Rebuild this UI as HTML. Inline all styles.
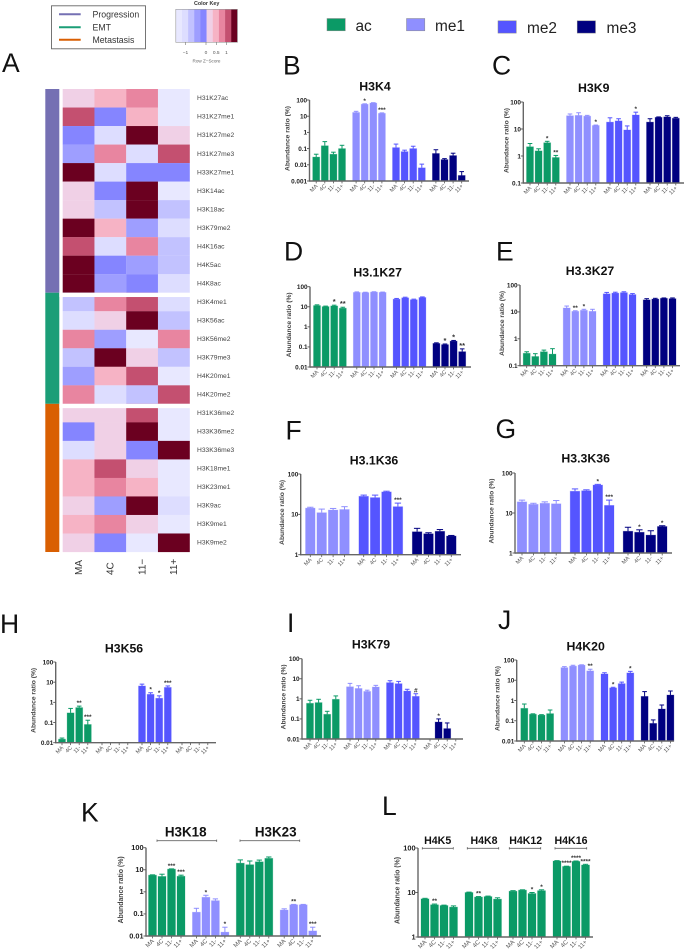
<!DOCTYPE html>
<html lang="en">
<head>
<meta charset="utf-8">
<title>Histone modification abundance</title>
<style>
html,body{margin:0;padding:0;background:#fff;}
body{width:685px;height:952px;overflow:hidden;font-family:"Liberation Sans",sans-serif;}
svg{display:block;}
text{font-family:"Liberation Sans",sans-serif;}
</style>
</head>
<body>
<svg id="figure" width="685" height="952" viewBox="0 0 685 952" xmlns="http://www.w3.org/2000/svg">
  <rect x="0" y="0" width="685" height="952" fill="#fff"/>
  <g>
    <rect x="51.5" y="5.8" width="94" height="43" fill="#fff" stroke="#666" stroke-width="0.9"/>
    <line x1="59" x2="80.7" y1="14.3" y2="14.3" stroke="#7570b3" stroke-width="2"/>
    <line x1="59" x2="80.7" y1="27.3" y2="27.3" stroke="#1b9e77" stroke-width="2"/>
    <line x1="59" x2="80.7" y1="39.7" y2="39.7" stroke="#d95f02" stroke-width="2"/>
    <text x="92.5" y="17.6" font-size="8.75" fill="#333">Progression</text>
    <text x="92.5" y="30.6" font-size="8.75" fill="#333">EMT</text>
    <text x="92.5" y="43" font-size="8.75" fill="#333">Metastasis</text>
  </g>
  <g>
    <rect x="327" y="18.5" width="18.3" height="12.3" fill="#0b9a66" stroke="#888" stroke-width="0.5"/>
    <text x="355.5" y="31" font-size="15.4" fill="#222">ac</text>
    <rect x="406.5" y="18.5" width="18.3" height="12.3" fill="#8f8fff" stroke="#888" stroke-width="0.5"/>
    <text x="435" y="31" font-size="15.4" fill="#222">me1</text>
    <rect x="498" y="20.8" width="18.3" height="12.3" fill="#5555ff" stroke="#888" stroke-width="0.5"/>
    <text x="527" y="33" font-size="15.4" fill="#222">me2</text>
    <rect x="577.2" y="20.8" width="18.3" height="12.3" fill="#000080" stroke="#888" stroke-width="0.5"/>
    <text x="606.5" y="33" font-size="15.4" fill="#222">me3</text>
  </g>
  <g id="panel-letters" font-size="26.5" fill="#111">
    <text x="2" y="72">A</text>
    <text x="283" y="74.3">B</text>
    <text x="492" y="74.3">C</text>
    <text x="284" y="260.7">D</text>
    <text x="496" y="260.7">E</text>
    <text x="285.5" y="439.3">F</text>
    <text x="495.5" y="438">G</text>
    <text x="0" y="633">H</text>
    <text x="287" y="632">I</text>
    <text x="498" y="629">J</text>
    <text x="81" y="821.7">K</text>
    <text x="382" y="815">L</text>
  </g>
</svg>
<script>
// ---------- shared categories ----------
const categories = ['MA', '4C', '11-', '11+'];

// ---------- heatmap data (row z-scores) ----------
const heatmapRows = ['H31K27ac','H31K27me1','H31K27me2','H31K27me3','H33K27me1','H3K14ac','H3K18ac','H3K79me2','H4K16ac','H4K5ac','H4K8ac','H3K4me1','H3K56ac','H3K56me2','H3K79me3','H4K20me1','H4K20me2','H31K36me2','H33K36me2','H33K36me3','H3K18me1','H3K23me1','H3K9ac','H3K9me1','H3K9me2'];
const heatmapColumns = ['MA', '4C', '11\u2212', '11+'];
const heatmapZ = [
  [0.15,0.45,0.75,-1.35],
  [1.05,-0.15,0.45,-1.35],
  [-0.15,-1.05,1.35,0.15],
  [-0.45,0.75,-1.05,1.05],
  [1.35,-1.05,-0.15,-0.15],
  [0.15,-0.15,1.35,-1.35],
  [0.15,-0.75,1.35,-0.75],
  [1.35,0.45,-0.45,-1.05],
  [1.05,-1.05,0.75,-0.75],
  [1.35,-0.15,-0.45,-0.75],
  [1.35,-0.45,-0.15,-1.05],
  [-0.75,0.75,1.05,-1.05],
  [-1.05,0.15,1.35,-0.75],
  [0.75,-0.45,-1.35,0.75],
  [-0.75,1.35,0.15,-0.75],
  [-0.45,0.45,1.05,-1.35],
  [0.75,-1.05,-0.75,1.05],
  [0.15,0.15,1.05,-1.35],
  [-0.15,0.15,1.35,-1.35],
  [-1.05,0.15,-0.15,1.35],
  [0.45,1.05,0.15,-1.35],
  [0.45,0.75,0.45,-1.35],
  [0.15,-0.45,1.35,-1.05],
  [0.45,0.75,0.15,-1.35],
  [0.15,-0.15,-1.35,1.35]
];
const heatmapGroups = ['Progression','EMT','Metastasis'];
const heatmapGroupCounts = [11, 6, 8];
const colorKeyTicks = [-1, 0, 0.5, 1];

// ---------- bar chart data ----------
const yTicks001 = [0.001, 0.01, 0.1, 1, 10, 100];
const yTicks01 = [0.01, 0.1, 1, 10, 100];
const yTicks1 = [0.1, 1, 10, 100];
const yTicksUnit = [1, 10, 100];

const h3k4Values = [[0.03,0.15,0.045,0.1],[17,55,65,15],[0.115,0.065,0.1,0.0065],[0.05,0.021,0.037,0.0022]];
const h3k4Errors = [[0.045,0.27,0.06,0.16],[20,58,68,16],[0.19,0.08,0.14,0.011],[0.085,0.024,0.052,0.0038]];
const h3k4Stars = [['','','',''],['','*','','***'],['','','',''],['','','','']];

const h3k9Values = [[2.2,1.55,3.1,0.88],[31,32,30,13.5],[18,20,9.2,33],[18,27,28,25]];
const h3k9Errors = [[2.9,1.85,3.5,1.05],[36,40,32,14],[26,24,13,42],[24,28,31,27]];
const h3k9Stars = [['','','*','**'],['','','','*'],['','','','*'],['','','','']];

const h31k27Values = [[11.5,10.2,11,8.5],[52,51,54,52],[24,28,22.5,29],[0.15,0.13,0.195,0.058]];
const h31k27Errors = [[12.5,10.8,12,9.5],[55,53,56,54],[26,30,24,31],[0.16,0.14,0.21,0.08]];
const h31k27Stars = [['','','*','**'],['','','',''],['','','',''],['','*','*','**']];

const h33k27Values = [[0.29,0.22,0.33,0.27],[14,10.5,11.5,10.5],[47,50,52,44],[28,30,32,31]];
const h33k27Errors = [[0.33,0.28,0.38,0.43],[16.5,11,12.5,12.5],[53,54,56,48],[31,32,33,33]];
const h33k27Stars = [['','','',''],['','**','*',''],['','','',''],['','','','']];

const h31k36Values = [[14.3,11,12.8,13.2],[28,26,36,15.5],[3.7,3.3,3.8,2.9]];
const h31k36Errors = [[15,13.5,14,15.5],[30,30,37.5,19],[4.5,3.5,4.2,3]];
const h31k36Stars = [['','','',''],['','','','***'],['','','','']];

const h33k36Values = [[19,16.5,17.5,17],[35,36,50,15.5],[3.5,3.3,2.8,4.6]];
const h33k36Errors = [[21,17.5,19,20.5],[40,38,52,21],[4.4,3.8,3.6,4.8]];
const h33k36Stars = [['','','',''],['','','*','***'],['','*','','*']];

const h3k56Values = [[0.015,0.3,0.55,0.08],[null,null,null,null],[6.5,2.5,1.6,5.5],[null,null,null,null]];
const h3k56Errors = [[0.017,0.5,0.65,0.13],[null,null,null,null],[8,3,2.1,6.5],[null,null,null,null]];
const h3k56Stars = [['','','**','***'],['','','',''],['','*','*','***'],['','','','']];

const h3k79Values = [[0.6,0.65,0.17,0.95],[4,3.3,2.35,3.9],[6.4,5.7,2.45,1.33],[null,0.07,0.033,null]];
const h3k79Errors = [[0.85,0.95,0.24,1.4],[5.9,4.5,2.7,4.7],[8,7.4,3,1.8],[null,0.1,0.063,null]];
const h3k79Stars = [['','','',''],['','','',''],['','','','#'],['','*','','']];

const h4k20Values = [[0.41,0.21,0.19,0.225],[42,50,56,29],[20.5,4.2,6.8,23],[1.6,0.074,0.38,1.86]];
const h4k20Errors = [[0.67,0.22,0.2,0.34],[47,55,58,35],[23.5,4.5,8.1,27.5],[2.75,0.11,0.6,2.95]];
const h4k20Stars = [['','','',''],['','','','**'],['','*','','*'],['','','','']];

const h3k18k23Values = [[5.7,5,10.7,5.1],[0.12,0.57,0.4,0.015],[20,17,23,33],[0.15,0.26,0.26,0.017]];
const h3k18k23Errors = [[5.9,6.3,11,5.7],[0.18,0.7,0.48,0.025],[28,25,27.5,38],[0.17,0.27,0.27,0.025]];
const h3k18k23Stars = [['','','***','***'],['','*','','*'],['','','',''],['','**','','***']];

const h4Values = [[7.2,5.3,5.1,4.7],[10,7.9,8.1,7.1],[10.7,11.3,9.5,11],[51,38.5,50,41.5]];
const h4Errors = [[7.4,5.5,5.2,5],[10.2,8.1,8.3,7.6],[11,11.5,10,11.5],[52,39,51,43]];
const h4Stars = [['','**','',''],['','**','',''],['','','*','*'],['','****','****','****']];

// ---------- layout (not data) ----------
const fills = {ac:'#0b9a66', me1:'#8f8fff', me2:'#5555ff', me3:'#000080'};
const keyColors = ['#e8e8ff','#ddddff','#c2c2ff','#9e9eff','#8585ff','#f0d0e6','#f6b3c5','#e885a0','#c45070','#6b0020'];
const figure = document.getElementById('figure');
const NS = 'http://www.w3.org/2000/svg';

function make(tag, attrs, parent, content) {
  const node = document.createElementNS(NS, tag);
  for (const k in attrs) node.setAttribute(k, attrs[k]);
  if (content !== undefined) node.textContent = content;
  parent.appendChild(node);
  return node;
}

function slug(s) {
  return String(s).toLowerCase().replace(/\./g, '').replace(/\+/g, 'plus').replace(/[-\u2212]/g, 'minus').replace(/[^a-z0-9]+/g, '-');
}

// ---------- colour key ----------
(function drawColorKey() {
  const g = make('g', {}, figure);
  
  
  const x0 = 175.8, zero = 206, unit = 20.5, binW = 6.16;
  keyColors.forEach(function (c, i) {
    const r = make('rect', {x: x0 + i * binW, y: 9.3, width: binW + 0.2, height: 33, fill: c}, g);
    
    
  });
  const frame = make('rect', {x: x0, y: 9.3, width: 61.6, height: 33, fill: 'none', stroke: '#999', 'stroke-width': 0.6}, g);
  
  
  colorKeyTicks.forEach(function (t) {
    const x = zero + t * unit;
    const tick = make('line', {x1: x, x2: x, y1: 42.3, y2: 45, stroke: '#555', 'stroke-width': 0.5}, g);
    
    
    const lab = make('text', {x: x, y: 54, 'font-size': 4.8, fill: '#555', 'text-anchor': 'middle'}, g, t < 0 ? '\u22121' : String(t));
    
    
  });
  const title = make('text', {x: 206.7, y: 5, 'font-size': 5.4, 'font-weight': 'bold', fill: '#333', 'text-anchor': 'middle'}, g, 'Color Key');
  
  
  const sub = make('text', {x: 206.5, y: 62.6, 'font-size': 4.6, fill: '#666', 'text-anchor': 'middle'}, g, 'Row Z\u2212Score');
  
  
})();

// ---------- heatmap ----------
function heatColor(z) {
  const bin = Math.max(0, Math.min(keyColors.length - 1, Math.floor((z + 1.5) / 0.3)));
  return keyColors[bin];
}

(function drawHeatmap() {
  const g = make('g', {}, figure);
  
  
  const top = 89, rowH = 18.52, colX = 62.7, colW = 31.75;
  const groupColors = ['#7570b3', '#1b9e77', '#d95f02'];
  let cursor = 0;
  heatmapGroupCounts.forEach(function (count, i) {
    const side = make('rect', {x: 45.3, y: top + cursor * rowH, width: 14, height: count * rowH, fill: groupColors[i]}, g);
    
    
    cursor += count;
  });
  heatmapZ.forEach(function (row, r) {
    row.forEach(function (z, c) {
      const cell = make('rect', {x: colX + c * colW, y: top + r * rowH, width: colW + 0.1, height: rowH + 0.1, fill: heatColor(z)}, g);
      
      
    });
    const lab = make('text', {x: 197, y: top + r * rowH + 11.2, 'font-size': 6.7, fill: '#444'}, g, heatmapRows[r]);
    
    
  });
  let split = 0;
  heatmapGroupCounts.slice(0, 2).forEach(function (count) {
    split += count;
    const gap = make('rect', {x: 59.3, y: top + split * rowH, width: 132, height: 4.3, fill: '#fff'}, g);
    
    
  });
  heatmapColumns.forEach(function (label, c) {
    const cx = colX + (c + 0.5) * colW + 3.4;
    const lab = make('text', {x: cx, y: 575, 'font-size': 10, fill: '#333', transform: 'rotate(-90 ' + cx + ' 575)'}, g, label);
    
    
  });
})();

// ---------- bar panels ----------
function drawPanel(p) {
  const g = make('g', {}, figure);
  
  
  const lo = Math.log10(p.ticks[0]);
  const hi = Math.log10(p.ticks[p.ticks.length - 1]);
  const yScale = function (v) { return p.bottom - (Math.log10(v) - lo) / (hi - lo) * (p.bottom - p.top); };
  const xScale = function (grp, i) { return p.first + grp * p.pitch + i * p.step; };

  p.values.forEach(function (series, grp) {
    const fill = fills[p.series[grp]];
    series.forEach(function (v, i) {
      const cx = xScale(grp, i);
      if (v !== null) {
        const errTop = yScale(p.errors[grp][i]);
        const y = yScale(v);
        const stem = make('line', {x1: cx, x2: cx, y1: errTop, y2: y, stroke: fill, 'stroke-width': 1}, g);
        
        
        const cap = make('line', {x1: cx - p.barW * 0.33, x2: cx + p.barW * 0.33, y1: errTop, y2: errTop, stroke: fill, 'stroke-width': 1}, g);
        
        
        const bar = make('rect', {x: cx - p.barW / 2, y: y, width: p.barW, height: p.bottom - y, fill: fill, stroke: fill, 'stroke-opacity': 0.3, 'stroke-width': 0.8}, g);
        
        
      }
      const mark = p.stars[grp][i];
      if (mark && v !== null) {
        const star = make('text', {x: cx, y: yScale(p.errors[grp][i]) - 1, 'font-size': p.starSize || 6.5, 'font-weight': 'bold', fill: '#333', 'text-anchor': 'middle'}, g, mark);
        
        
      }
      const tick = make('line', {x1: cx, x2: cx, y1: p.bottom, y2: p.bottom + 2.4, stroke: '#555', 'stroke-width': 0.8}, g);
      
      
      const lx = cx + 1.8, ly = p.bottom + 5.4;
      const lab = make('text', {x: lx, y: ly, 'font-size': p.xSize || 5.6, fill: '#555', 'text-anchor': 'end', transform: 'rotate(-45 ' + lx + ' ' + ly + ')'}, g, categories[i]);
      
      
    });
  });

  const yAxis = make('line', {x1: p.left, x2: p.left, y1: p.top, y2: p.bottom + 0.7, stroke: '#666', 'stroke-width': 1.4}, g);
  
  
  const xAxis = make('line', {x1: p.left, x2: p.right, y1: p.bottom, y2: p.bottom, stroke: '#666', 'stroke-width': 1.4}, g);
  
  

  p.ticks.forEach(function (t) {
    const y = yScale(t);
    const tick = make('line', {x1: p.left - 2.5, x2: p.left, y1: y, y2: y, stroke: '#555', 'stroke-width': 0.9}, g);
    
    
    const lab = make('text', {x: p.left - 2.4, y: y + 2.3, 'font-size': p.tickSize || 6.4, 'font-weight': 'bold', fill: '#222', 'text-anchor': 'end'}, g, String(t));
    
    
  });

  const ly = (p.top + p.bottom) / 2 - 2;
  const lx = p.left - p.labelOffset + 2;
  const yTitle = make('text', {x: lx, y: ly, 'font-size': p.labelSize || 6.7, 'font-weight': 'bold', fill: '#444', 'text-anchor': 'middle', transform: 'rotate(-90 ' + lx + ' ' + ly + ')'}, g, 'Abundance ratio (%)');
  
  

  p.titles.forEach(function (t) {
    const title = make('text', {x: t.x, y: t.y + 4.3, 'font-size': p.titleSize || 12.3, 'font-weight': 'bold', fill: '#111', 'text-anchor': 'middle'}, g, t.text);
    
    
    if (t.x1 !== undefined) {
      const bracket = make('line', {x1: t.x1, x2: t.x2, y1: t.by, y2: t.by, stroke: '#666', 'stroke-width': 0.9}, g);
      
      
      [t.x1, t.x2].forEach(function (bx) {
        const end = make('line', {x1: bx, x2: bx, y1: t.by - 1.2, y2: t.by + 1.2, stroke: '#666', 'stroke-width': 0.8}, g);
        
        
      });
    }
  });
}

const allSeries = ['ac', 'me1', 'me2', 'me3'];
const methylSeries = ['me1', 'me2', 'me3'];

drawPanel({name:'H3K4', values:h3k4Values, errors:h3k4Errors, stars:h3k4Stars, series:allSeries, ticks:yTicks001, left:309.5, top:100, bottom:181, right:469, first:316.2, pitch:39.9, step:8.6, barW:7, labelOffset:22, titles:[{text:'H3K4', x:375, y:86}]});
drawPanel({name:'H3K9', values:h3k9Values, errors:h3k9Errors, stars:h3k9Stars, series:allSeries, ticks:yTicks1, left:523.3, top:102, bottom:183, right:684, first:530, pitch:40, step:8.6, barW:7, labelOffset:16.6, titles:[{text:'H3K9', x:593.7, y:87.7}]});
drawPanel({name:'H3.1K27', values:h31k27Values, errors:h31k27Errors, stars:h31k27Stars, series:allSeries, ticks:yTicks01, left:310, top:286.7, bottom:367, right:471, first:317, pitch:39.8, step:8.6, barW:7, labelOffset:21, starSize:7.5, titles:[{text:'H3.1K27', x:377.7, y:272}]});
drawPanel({name:'H3.3K27', values:h33k27Values, errors:h33k27Errors, stars:h33k27Stars, series:allSeries, ticks:yTicks1, left:520, top:285, bottom:365.7, right:680, first:526.7, pitch:40, step:8.6, barW:7, labelOffset:18, titles:[{text:'H3.3K27', x:590, y:270.7}]});
drawPanel({name:'H3.1K36', values:h31k36Values, errors:h31k36Errors, stars:h31k36Stars, series:methylSeries, ticks:yTicksUnit, left:300.7, top:474, bottom:554.7, right:461, first:310.3, pitch:53.4, step:11.4, barW:9.6, labelOffset:18.7, titles:[{text:'H3.1K36', x:374, y:460}]});
drawPanel({name:'H3.3K36', values:h33k36Values, errors:h33k36Errors, stars:h33k36Stars, series:methylSeries, ticks:yTicksUnit, left:515, top:473, bottom:553, right:672, first:522, pitch:53, step:11.4, barW:9.6, labelOffset:23.3, titles:[{text:'H3.3K36', x:585.7, y:458.3}]});
drawPanel({name:'H3K56', values:h3k56Values, errors:h3k56Errors, stars:h3k56Stars, series:allSeries, ticks:yTicks01, left:55.7, top:662, bottom:742.7, right:216, first:62, pitch:40, step:8.6, barW:7, labelOffset:22.4, titles:[{text:'H3K56', x:124, y:648}]});
drawPanel({name:'H3K79', values:h3k79Values, errors:h3k79Errors, stars:h3k79Stars, series:allSeries, ticks:yTicks01, left:302, top:658.7, bottom:739, right:463, first:310, pitch:40, step:8.6, barW:7, labelOffset:18.7, titles:[{text:'H3K79', x:371, y:644}]});
drawPanel({name:'H4K20', values:h4k20Values, errors:h4k20Errors, stars:h4k20Stars, series:allSeries, ticks:yTicks01, left:516.7, top:660, bottom:741, right:674, first:524.3, pitch:40.1, step:8.6, barW:7, labelOffset:19, titles:[{text:'H4K20', x:585.7, y:646}]});
drawPanel({name:'H3K18 H3K23', values:h3k18k23Values, errors:h3k18k23Errors, stars:h3k18k23Stars, series:['ac','me1','ac','me1'], ticks:yTicks01, left:146, top:847.7, bottom:936, right:321, first:152.5, pitch:43.9, step:9.5, barW:8, labelOffset:25, tickSize:7.4, labelSize:6.9, xSize:6, titleSize:13.4, titles:[{text:'H3K18', x:185.7, y:832, x1:157, x2:216.7, by:840.7},{text:'H3K23', x:275.7, y:832, x1:240, x2:299.7, by:840.7}]});
drawPanel({name:'H4 acetylation', values:h4Values, errors:h4Errors, stars:h4Stars, series:['ac','ac','ac','ac'], ticks:yTicksUnit, left:418, top:848, bottom:937, right:593, first:425, pitch:44, step:9.5, barW:8, labelOffset:20.3, tickSize:7.4, labelSize:6.9, xSize:6, titleSize:10.6, titles:[{text:'H4K5', x:437.7, y:839.7, x1:422.3, x2:453.3, by:848.3},{text:'H4K8', x:484, y:839.7, x1:467.3, x2:498.7, by:848.3},{text:'H4K12', x:525.7, y:839.7, x1:509.3, x2:540.7, by:848.3},{text:'H4K16', x:571, y:839.7, x1:555, x2:586.7, by:848.3}]});
</script>
</body>
</html>
